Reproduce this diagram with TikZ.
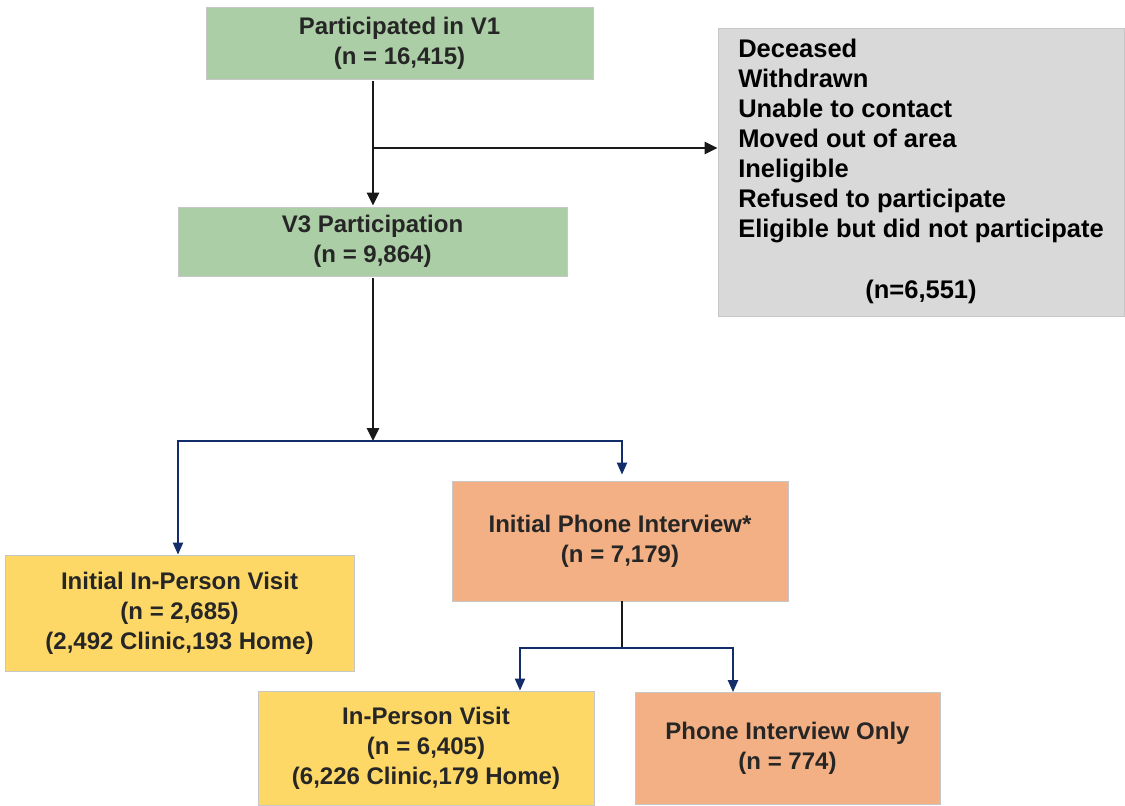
\documentclass[tikz,border=0pt]{standalone}
\usepackage{fontspec}
\setmainfont{Liberation Sans}
\usetikzlibrary{arrows.meta,calc}
\definecolor{boxgreen}{RGB}{172,206,166}
\definecolor{boxgray}{RGB}{217,217,217}
\definecolor{boxyellow}{RGB}{253,216,102}
\definecolor{boxorange}{RGB}{243,176,132}
\definecolor{navyline}{RGB}{18,45,105}
\definecolor{txtdark}{RGB}{38,38,38}
\begin{document}
\begin{tikzpicture}[x=1pt,y=-1pt,
  fbox/.style={rectangle, fill=#1, draw=black!22, line width=0.8pt, inner sep=0pt,
    align=center, text=txtdark, font=\bfseries\fontsize{24}{30}\selectfont},
  blk/.style={draw=black!90, line width=2.8pt, -{Triangle[length=13pt,width=12pt]}},
  blkthin/.style={draw=black!90, line width=1.6pt},
  blu/.style={draw=navyline, line width=2.2pt, -{Triangle[length=12pt,width=10pt]}},
  bluplain/.style={draw=navyline, line width=2.2pt}
]
\useasboundingbox (0,0) rectangle (1125,806);

\node[fbox=boxgreen, minimum width=387, minimum height=72] (v1) at (399.5,43) {Participated in V1\\(n = 16,415)};
\node[fbox=boxgreen, minimum width=389, minimum height=69] (v3) at (372.5,241.5) {V3 Participation\\(n = 9,864)};
\node[fbox=boxgray, text=black, font=\bfseries\fontsize{25.5}{30}\selectfont, minimum width=406, minimum height=288] (lost) at (921,172)
  {\begin{tabular}{@{}l@{}}
   Deceased\\
   Withdrawn\\
   Unable to contact\\
   Moved out of area\\
   Ineligible\\
   Refused to participate\\
   Eligible but did not participate\\[31pt]
   \multicolumn{1}{@{}c@{}}{(n=6,551)}
   \end{tabular}};
\node[fbox=boxyellow, minimum width=349, minimum height=116] (iip) at (179.5,613) {Initial In-Person Visit\\(n = 2,685)\\(2,492 Clinic,193 Home)};
\node[fbox=boxorange, minimum width=336, minimum height=120] (iph) at (620,541) {Initial Phone Interview*\\(n = 7,179)};
\node[fbox=boxyellow, minimum width=336, minimum height=114] (ipv) at (426,748) {In-Person Visit\\(n = 6,405)\\(6,226 Clinic,179 Home)};
\node[fbox=boxorange, minimum width=305, minimum height=112] (pio) at (787.5,748.5) {Phone Interview Only\\(n = 774)};

\coordinate (b1) at (373,148);
\coordinate (j1) at (373,441);
\coordinate (j2) at (622,648);

\draw[blk] ([yshift=-2pt]v1.south -| b1) -- ([yshift=1pt]v3.north -| b1);
\draw[blk] (b1) -- (b1 -| lost.west);
\draw[blk] ([yshift=-2pt]v3.south -| j1) -- (j1);

\draw[bluplain] (j1) -- (j1 -| iph.north);
\draw[blu] (j1) -| ([xshift=-1.5pt]iip.north);
\draw[blu, shorten >=6pt] (j1) -| ([xshift=2pt]iph.north);

\draw[blkthin] (iph.south -| j2) -- (j2);
\draw[blu] (j2) -| ([xshift=94pt]ipv.north);
\draw[blu] (j2) -| ([xshift=-54.5pt]pio.north);
\end{tikzpicture}
\end{document}
